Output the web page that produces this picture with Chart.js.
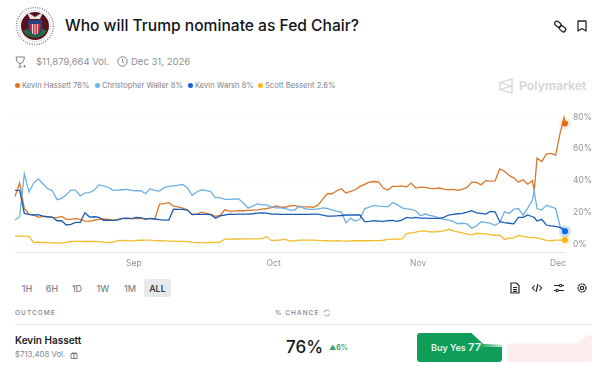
<!DOCTYPE html>
<html>
<head>
<meta charset="utf-8">
<script src="https://cdn.jsdelivr.net/npm/chart.js@4"></script>
<style>
  html, body { margin: 0; padding: 0; background: #fff; }
  body { width: 600px; height: 366px; overflow: hidden; position: relative; font-family: Inter, sans-serif; }
  .t { position: absolute; white-space: nowrap; line-height: 1; }
  svg { position: absolute; overflow: visible; }
  #chartWrap { position: absolute; left: 0; top: 100px; width: 600px; height: 172px; }
  .dot { position: absolute; width: 5px; height: 5px; border-radius: 50%; top: 83px; }
</style>
</head>
<body>

<!-- seal -->
<svg style="left:15px;top:6px" width="40" height="40" viewBox="0 0 40 40">
  <circle cx="20" cy="20" r="18.5" fill="none" stroke="#8b8d96" stroke-width="1.6" stroke-dasharray="1 1.4"/>
  <circle cx="20" cy="20" r="15.5" fill="none" stroke="#b5b7bd" stroke-width="1" stroke-dasharray="1 1.2"/>
  <circle cx="20" cy="20" r="14" fill="#5a1020"/>
  <path d="M8 25a14 14 0 0 0 24 0l-4-2H12z" fill="#1f6b3a"/>
  <path d="M12 6l8 5 8-5-3 7H15z" fill="#e9e4dc"/>
  <path d="M13 14h14v8q0 6-7 8-7-2-7-8z" fill="#28407e"/>
  <path d="M15 18h10v4q0 5-5 6.500-5-1.500-5-6.500z" fill="#c8323a"/>
  <path d="M17.500 18v10M20 18v11M22.500 18v10" stroke="#fff" stroke-width=".8"/>
</svg>
<div class="t" id="title" style="left:65px;top:18px;font-size:15.600px;font-weight:500;color:#111418">Who will Trump nominate as Fed Chair?</div>

<!-- link and bookmark -->
<svg style="left:554px;top:20px" width="13" height="13" viewBox="0 0 13 13" fill="none" stroke="#22262c" stroke-width="1.300">
  <rect x="0.500" y="2" width="7" height="4.500" rx="2.200" transform="rotate(40 4 4)"/>
  <rect x="5" y="6.500" width="7" height="4.500" rx="2.200" transform="rotate(40 8.500 8.700)"/>
</svg>
<svg style="left:577px;top:20px" width="10" height="12" viewBox="0 0 10 12" fill="none" stroke="#22262c" stroke-width="1.300">
  <path d="M1 1h8v10L5 8.500 1 11z" stroke-linejoin="round"/>
</svg>

<!-- meta row -->
<svg style="left:15px;top:56px" width="12" height="12" viewBox="0 0 12 12" fill="none" stroke="#7c8088" stroke-width="1">
  <path d="M1 1h8.500l-1 4.500q-1 2-3.200 2T2 5.500zM5 7.500v3M3 11h4M9.500 9v2.500M8.300 10.300h2.400"/>
</svg>
<div class="t" style="left:36px;top:57px;font-size:9.500px;color:#8b8f96">$11,879,664 Vol.</div>
<svg style="left:117px;top:56px" width="11" height="11" viewBox="0 0 11 11" fill="none" stroke="#7c8088" stroke-width="1">
  <circle cx="5.500" cy="5.500" r="4.700"/><path d="M5.500 2.800v2.900l1.800 1.300"/>
</svg>
<div class="t" style="left:131px;top:57px;font-size:9.500px;color:#8b8f96">Dec 31, 2026</div>

<!-- legend goes here from script -->
<div id="legend"></div>

<!-- polymarket mark -->
<svg style="left:499px;top:78px" width="14" height="16" viewBox="0 0 14 16" fill="none" stroke="#d3d5d9" stroke-width="1.300">
  <path d="M13 1L1 4.500v7L13 15zM1 4.500L13 8M1 11.500L13 8"/>
</svg>
<div class="t" style="left:519px;top:80px;font-size:12.300px;font-weight:600;color:#d3d5d9">Polymarket</div>

<div id="chartWrap"><canvas id="chart" width="600" height="172"></canvas></div>

<!-- range buttons -->
<div style="position:absolute;left:144px;top:279px;width:27px;height:18px;border-radius:3px;background:#e6e9ec"></div>
<div id="ranges"></div>

<!-- toolbar -->
<svg style="left:510px;top:282px" width="10" height="12" viewBox="0 0 10 12" fill="none" stroke="#22262c" stroke-width="1.200">
  <path d="M1 1h5.500L9 3.500V11H1zM3 5.500h4M3 7.500h4M3 9.300h4"/>
</svg>
<svg style="left:532px;top:283px" width="10" height="10" viewBox="0 0 10 10" fill="none" stroke="#22262c" stroke-width="1.200">
  <path d="M2.500 2.500L0.500 5l2 2.500M7.500 2.500L9.500 5l-2 2.500M6 1L4 9"/>
</svg>
<svg style="left:554px;top:283px" width="10" height="10" viewBox="0 0 10 10" fill="none" stroke="#22262c" stroke-width="1.100">
  <path d="M0 2.500h5.500M8 2.500h2M0 7.500h2M4.500 7.500H10"/><circle cx="6.700" cy="2.500" r="1.200"/><circle cx="3.200" cy="7.500" r="1.200"/>
</svg>
<svg style="left:577px;top:283px" width="10" height="10" viewBox="0 0 10 10" fill="none" stroke="#22262c" stroke-width="1.200">
  <circle cx="5" cy="5" r="1.700"/><circle cx="5" cy="5" r="4" stroke-dasharray="2.200 .6"/>
</svg>

<!-- outcome table -->
<div class="t" style="left:15px;top:310px;font-size:6.500px;font-weight:500;letter-spacing:1.050px;color:#80858c">OUTCOME</div>
<div class="t" style="left:275px;top:310px;font-size:6.500px;font-weight:500;letter-spacing:1.050px;color:#80858c">% CHANCE</div>
<svg style="left:323px;top:309px" width="8" height="8" viewBox="0 0 8 8" fill="none" stroke="#9a9ea5" stroke-width="1">
  <path d="M1 3.500A3 3 0 0 1 6.500 2.500M7 4.500A3 3 0 0 1 1.500 5.500"/>
</svg>
<div style="position:absolute;left:15px;top:324px;width:577px;height:1px;background:#e6e8eb"></div>
<div class="t" style="left:15px;top:335px;font-size:10px;font-weight:600;color:#1a1e24">Kevin Hassett</div>
<div class="t" style="left:15px;top:351px;font-size:7.800px;color:#80858c">$713,408 Vol.</div>
<svg style="left:70px;top:351px" width="8" height="8" viewBox="0 0 8 8" fill="none" stroke="#6d7178" stroke-width=".9">
  <path d="M1 2.500h6v5H1zM4 2.500v5M2.500 2.500Q1.500 .5 4 2.500Q6.500 .5 5.500 2.500"/>
</svg>
<div class="t" style="left:286px;top:339px;font-size:17px;font-weight:500;color:#14171c">76%</div>
<div class="t" style="left:329px;top:344px;font-size:7px;font-weight:700;color:#3a9e70">▲6%</div>

<!-- buy button, the picture has a smear across its corner -->
<div style="position:absolute;left:417px;top:333px;width:85px;height:29px;border-radius:3px;background:#0f9d58;clip-path:polygon(0 0,64% 0,78% 38%,100% 40%,100% 100%,0 100%)"></div>
<div class="t" style="left:431px;top:342px;font-size:9px;font-weight:600;color:#e8f6ee">Buy Yes <span style="font-size:11px">77</span></div>
<div style="position:absolute;left:478px;top:343px;width:26px;height:4px;background:linear-gradient(90deg,#fff0,#ffffffd0)"></div>
<div style="position:absolute;left:507px;top:333px;width:85px;height:29px;border-radius:3px;background:#fdeeee;clip-path:polygon(0 36%,82% 36%,95% 8%,100% 8%,100% 100%,0 100%)"></div>

<script>
// days counted from Aug 1, two extra samples around the jumps near the end
const days = [5.5,6.5,7.5,8.5,9.5,10.5,11.5,12.5,13.5,14.5,15.5,16.5,17.5,18.5,19.5,20.5,21.5,22.5,23.5,24.5,25.5,26.5,27.5,28.5,29.5,30.5,31.5,32.5,33.5,
  34.5,35.5,36.5,37.5,38.5,39.5,40.5,41.5,42.5,43.5,44.5,45.5,46.5,47.5,48.5,49.5,50.5,51.5,52.5,53.5,54.5,55.5,56.5,57.5,58.5,59.5,60.5,61.5,62.5,63.5,64.5,65.5,66.5,
  67.5,68.5,69.5,70.5,71.5,72.5,73.5,74.5,75.5,76.5,77.5,78.5,79.5,80.5,81.5,82.5,83.5,84.5,85.5,86.5,87.5,88.5,89.5,90.5,91.5,92.5,93.5,94.5,95.5,96.5,97.5,98.5,
  99.5,100.5,101.5,102.5,103.5,104.5,105.5,106.5,107.5,108.5,109.5,110.5,111.5,112.5,113.5,114.5,115.5,116.5,116.9,117.5,118.5,119.5,120.5,121.5,122.5,123.3,123.5];

const hassett = [30,38.4,22.4,18.9,18.3,16.8,17.4,17.2,16.8,16.6,17.4,15.6,15.6,16,15.6,14.5,14.3,15,15.6,15.8,15.6,15.1,15.6,16,16.2,16,16,16,16,
  16,15.8,25.1,25.5,26.1,23.9,23.4,22.6,21.6,18.5,18.9,20.1,19.3,18.7,17.4,18,21.6,20.7,20.7,21,21,21.2,21.4,21.6,22,22.4,23,24,23.2,23.2,24,24.3,23.4,
  23.4,23.4,23.2,24.5,28.2,31.7,31.7,33.4,34.9,32.2,33.2,34.2,36.3,37.6,39,39.4,39.2,35.3,34,36.3,36.3,36.7,35.9,38.4,35.3,35.9,35.7,35.1,34.9,35.3,34.6,34.2,
  34.4,33.8,34.6,35.7,39,38.8,37.3,40,39.6,39.8,47.3,45.9,43.2,41.7,39,40.5,37.8,40,33.6,54.1,52,56.6,57.1,56,70.7,79.5,76];

const waller = [15.1,17.2,44.2,32.8,38.4,41.1,38,34.9,33.8,28,28.8,31.1,34,34,30.3,32.2,32.4,34,37.3,36.7,35.8,33.8,34,34.2,34.4,33.8,33.6,33.6,31.7,
  34.9,33.8,33.4,35.5,36.3,36.7,37.1,37.6,35.3,30.7,32.8,34.2,33.6,33,29.3,29.3,28.2,28.2,28.4,28.4,25.9,22.6,23.9,25.3,24.7,24.7,23.4,22.8,22.8,22.4,21.4,21.4,23.9,
  22.4,21.8,21.8,22.2,22.8,22.4,21.6,20.7,20.1,13.5,16.2,14.5,15.6,22.2,23.2,24.3,23.9,23.7,23.4,26.1,24.9,22.8,22.2,21.8,21,17.8,18.9,18,17.4,16.4,15.6,15.1,
  14.3,12.7,13.1,12.7,10,11.4,14.1,13.7,13.1,11.8,13.5,20.3,19.3,21.8,22.4,18.3,22.6,27.6,33.2,22.4,21.4,24.5,23.4,22.4,10.6,8,8];

const warsh = [33.8,33.8,19.3,18.7,18.3,18.5,17.6,17.2,17,14.7,14.7,12,12.4,13.7,13.7,19.7,17,17.2,16.8,14.9,15.1,14.9,15.1,16.2,16.4,16,16.8,16.6,15.6,
  16.2,15.8,15.4,15.1,15.1,22,21.8,21.8,21.4,18.7,18.7,18.7,18.7,18.5,16.2,17.8,18.3,18.9,18.7,18.9,18.9,18.9,19.1,19.5,19.7,19.5,18.9,18.9,18.7,18.7,18.7,18.7,18.7,
  18.7,18.7,18.9,18.9,18.3,17.6,17.6,17.8,18,18.3,18.3,18.3,18.3,14.1,14.3,14.7,14.5,14.3,14.7,14.9,14.3,15.1,16.8,16.4,16.8,16.4,16.4,16.2,16.2,16.2,16.8,18.3,
  18.7,19.1,19.3,20.1,21,19.7,19.3,18.9,20.5,20.3,14.1,13.5,13.1,12.7,16.8,16.8,18.3,17.2,16.8,14.5,15.6,12,11.4,11.2,10.4,9.3,8];

const bessent = [5,5,5,4.8,1,1.2,1,1,.8,.7,.6,1.1,1.6,1.7,1.7,1.6,1.6,1.6,1.5,1.2,1,1.1,2.2,2.3,2.2,1.9,2.3,2.4,2.5,
  2.5,2.2,2.1,2,1.9,1.8,1.7,1.7,1.6,1,.9,.9,.8,1,1,1.2,3.1,3.1,3.2,3.2,3.3,3.3,3.3,3.3,3.4,4.6,2.3,2.3,2.6,2.9,1.9,2.1,2.5,
  2.5,2.5,2.5,2.3,2.2,2.1,1.9,2.2,2,1.9,2,2.1,2.1,2.1,2.1,2.2,2.2,2.4,2.9,3.1,3.1,3.3,6.6,7.1,7.5,8.1,8.3,7.7,7.7,7.9,8.3,9.3,
  8.3,7.7,7.1,6.2,5.8,6.8,6.6,6.4,6,5.4,5.8,2.9,3.7,3.9,5.4,4.8,4.4,4.1,4.1,3.9,3.1,2.3,2.1,2.5,2.5,2.6,2.6];

const seriesNames = ['Kevin Hassett 76%','Christopher Waller 8%','Kevin Warsh 8%','Scott Bessent 2.6%'];
const yTicks = [0,20,40,60,80];
const xTickDays = [31,61,92,122];
const xTickLabels = ['Sep','Oct','Nov','Dec'];
const rangeLabels = ['1H','6H','1D','1W','1M','ALL'];

// html bits
const legendColors = ['#e8751a','#6cb4ee','#1a5fd0','#f9b81b'];
const legendX = [15,95,188,258];
const legendTextX = [22,102,195,265];
const legendBox = document.getElementById('legend');
seriesNames.forEach((name,i)=>{
  legendBox.innerHTML += `<div class="dot" style="left:${legendX[i]}px;background:${legendColors[i]}"></div>
    <div class="t" style="left:${legendTextX[i]}px;top:81.5px;font-size:7.600px;color:#80858c">${name}</div>`;
});
const rangeX = [27,52,77,103,130,157.5];
const rangeBox = document.getElementById('ranges');
rangeLabels.forEach((r,i)=>{
  const on = r==='ALL';
  rangeBox.innerHTML += `<div class="t" style="left:${rangeX[i]-15}px;width:30px;text-align:center;top:283.5px;font-size:9px;font-weight:500;color:${on?'#1a1e24':'#80858c'}">${r}</div>`;
});

function line(label,values,color,dotColor,halo){
  const last = values.length-1;
  return {
    label,
    data: values.map((v,i)=>({x:days[i],y:v})),
    borderColor: color,
    borderWidth: 1.3,
    tension: 0,
    fill: false,
    clip: false,
    pointRadius: ctx=>ctx.dataIndex===last?3:0,
    pointBackgroundColor: dotColor,
    pointBorderColor: halo,
    pointBorderWidth: ctx=>ctx.dataIndex===last?6:0
  };
}

// first dataset ends up on top
new Chart(document.getElementById('chart').getContext('2d'),{
  type:'line',
  data:{datasets:[
    line('Warsh',warsh,'#1c5db4','#1169e8','rgba(17,105,232,0.14)'),
    line('Waller',waller,'#6fb0e2','#4aa3ea','rgba(74,163,234,0.12)'),
    line('Hassett',hassett,'#d9762c','#e8690b','rgba(232,105,11,0.12)'),
    line('Bessent',bessent,'#f0bd2b','#f5b70f','rgba(245,183,15,0.12)')
  ]},
  options:{
    responsive:false,
    animation:false,
    layout:{padding:{left:15,top:12,right:0,bottom:0}},
    plugins:{legend:{display:false},tooltip:{enabled:false}},
    scales:{
      x:{
        type:'linear',min:5.5,max:123.5,
        afterBuildTicks(s){ s.ticks = xTickDays.map(v=>({value:v})); },
        afterFit(s){ s.height = 20; },
        grid:{display:false,drawTicks:false,tickLength:0},
        border:{color:'#e3e5e8',width:1},
        ticks:{
          autoSkip:false,maxRotation:0,padding:6,color:'#8f939a',font:{family:'Inter',size:8.5},
          callback:v=>xTickLabels[xTickDays.indexOf(v)]
        }
      },
      y:{
        position:'right',min:-5,max:82.5,
        afterBuildTicks(s){ s.ticks = yTicks.map(v=>({value:v})); },
        afterFit(s){ s.width = 35; },
        grid:{color:'#e9ebee',drawTicks:false,tickLength:0},
        border:{display:false,dash:[1,3]},
        ticks:{padding:8,color:'#8f939a',font:{family:'Inter',size:8.5},callback:v=>v+'%'}
      }
    }
  }
});
</script>
</body>
</html>
